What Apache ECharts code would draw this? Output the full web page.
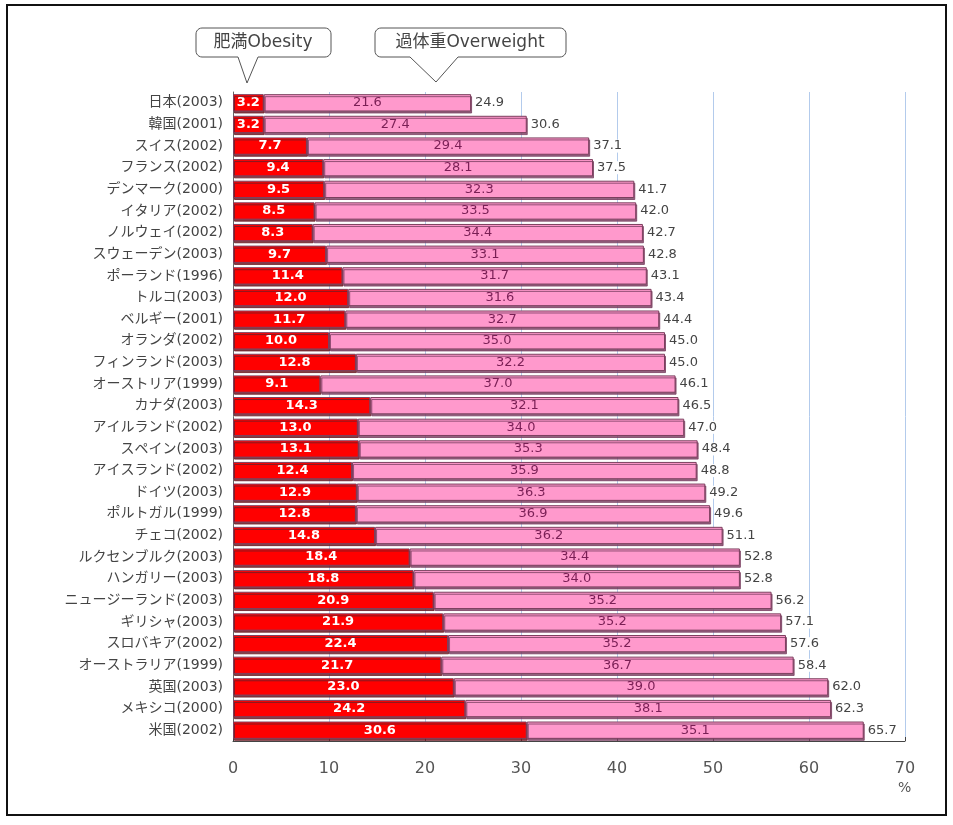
<!DOCTYPE html>
<html>
<head>
<meta charset="utf-8">
<script src="https://cdn.jsdelivr.net/npm/echarts@6/dist/echarts.min.js"></script>
<style>
  html, body { margin: 0; padding: 0; background: #ffffff; }
  #chart { width: 953px; height: 825px; }
</style>
</head>
<body>
<div id="chart"></div>
<script>
// OECD countries: obesity and overweight shares of the adult population (%)
const countries = [
  '日本(2003)', '韓国(2001)', 'スイス(2002)', 'フランス(2002)', 'デンマーク(2000)',
  'イタリア(2002)', 'ノルウェイ(2002)', 'スウェーデン(2003)', 'ポーランド(1996)', 'トルコ(2003)',
  'ベルギー(2001)', 'オランダ(2002)', 'フィンランド(2003)', 'オーストリア(1999)', 'カナダ(2003)',
  'アイルランド(2002)', 'スペイン(2003)', 'アイスランド(2002)', 'ドイツ(2003)', 'ポルトガル(1999)',
  'チェコ(2002)', 'ルクセンブルク(2003)', 'ハンガリー(2003)', 'ニュージーランド(2003)', 'ギリシャ(2003)',
  'スロバキア(2002)', 'オーストラリア(1999)', '英国(2003)', 'メキシコ(2000)', '米国(2002)'
];
const obesity = [
  3.2, 3.2, 7.7, 9.4, 9.5,
  8.5, 8.3, 9.7, 11.4, 12.0,
  11.7, 10.0, 12.8, 9.1, 14.3,
  13.0, 13.1, 12.4, 12.9, 12.8,
  14.8, 18.4, 18.8, 20.9, 21.9,
  22.4, 21.7, 23.0, 24.2, 30.6
];
const overweight = [
  21.6, 27.4, 29.4, 28.1, 32.3,
  33.5, 34.4, 33.1, 31.7, 31.6,
  32.7, 35.0, 32.2, 37.0, 32.1,
  34.0, 35.3, 35.9, 36.3, 36.9,
  36.2, 34.4, 34.0, 35.2, 35.2,
  35.2, 36.7, 39.0, 38.1, 35.1
];
const totals = [
  24.9, 30.6, 37.1, 37.5, 41.7,
  42.0, 42.7, 42.8, 43.1, 43.4,
  44.4, 45.0, 45.0, 46.1, 46.5,
  47.0, 48.4, 48.8, 49.2, 49.6,
  51.1, 52.8, 52.8, 56.2, 57.1,
  57.6, 58.4, 62.0, 62.3, 65.7
];
const xTicks = [0, 10, 20, 30, 40, 50, 60, 70];

const jpFont = '"DejaVu Sans", "Noto Sans CJK JP", sans-serif';
const numFont = '"DejaVu Sans", sans-serif';
const barBorder = '#7c3f5e';

// speech-bubble outline as polygon points: rounded box with a pointed tail on its lower edge
function bubble(x0, y0, x1, y1, t0, t1, tipX, tipY) {
  const r = 6, pts = [];
  const arc = (cx, cy, a0) => {
    for (let i = 0; i <= 6; i++) {
      const a = (a0 + i * 15) * Math.PI / 180;
      pts.push([cx + r * Math.cos(a), cy + r * Math.sin(a)]);
    }
  };
  arc(x0 + r, y0 + r, 180);       // top-left
  arc(x1 - r, y0 + r, 270);       // top-right
  arc(x1 - r, y1 - r, 0);         // bottom-right
  pts.push([t1, y1], [tipX, tipY], [t0, y1]);
  arc(x0 + r, y1 - r, 90);        // bottom-left
  return pts;
}

const chart = echarts.init(document.getElementById('chart'), null, { renderer: 'canvas' });

chart.setOption({
  backgroundColor: '#ffffff',
  animation: false,
  textStyle: { fontFamily: jpFont },
  grid: { left: 233, right: 48, top: 92, bottom: 84, containLabel: false },
  xAxis: {
    type: 'value',
    min: xTicks[0],
    max: xTicks[xTicks.length - 1],
    interval: 10,
    axisLine: { show: true, lineStyle: { color: '#444', width: 1 } },
    axisTick: { show: true, inside: true, length: 4, lineStyle: { color: '#444' } },
    axisLabel: { color: '#555', fontSize: 16, margin: 20, fontFamily: numFont },
    splitLine: { show: true, lineStyle: { color: '#b3cbec', width: 1 } }
  },
  yAxis: {
    type: 'category',
    data: countries,
    inverse: true,
    axisLine: { show: true, lineStyle: { color: '#666' } },
    axisTick: { show: false },
    axisLabel: { color: '#444', fontSize: 14, margin: 10, fontFamily: jpFont }
  },
  series: [
    {
      name: '肥満Obesity',
      type: 'bar',
      stack: 'bmi',
      data: obesity,
      barCategoryGap: '20%',
      itemStyle: {
        color: '#ff0000', borderColor: barBorder, borderWidth: 1,
        shadowColor: 'rgba(110, 30, 40, 0.85)', shadowOffsetY: 2, shadowOffsetX: 1, shadowBlur: 0
      },
      label: {
        show: true,
        position: 'inside',
        color: '#ffffff',
        fontWeight: 'bold',
        fontSize: 13,
        fontFamily: numFont,
        formatter: p => p.value.toFixed(1)
      }
    },
    {
      name: '過体重Overweight',
      type: 'bar',
      stack: 'bmi',
      data: overweight,
      itemStyle: {
        color: '#ff99cc', borderColor: barBorder, borderWidth: 1,
        shadowColor: 'rgba(120, 60, 95, 0.8)', shadowOffsetY: 2, shadowOffsetX: 1, shadowBlur: 0
      },
      label: {
        show: true,
        position: 'inside',
        color: '#7a1f55',
        fontSize: 13,
        fontFamily: numFont,
        formatter: p => p.value.toFixed(1)
      }
    },
    {
      // running total shown at the end of each stacked bar
      name: 'total',
      type: 'bar',
      stack: 'bmi',
      data: totals.map(() => 0),
      itemStyle: { color: 'transparent' },
      label: {
        show: true,
        position: 'right',
        distance: 4,
        color: '#444',
        fontSize: 13,
        fontFamily: numFont,
        backgroundColor: '#ffffff',
        formatter: p => totals[p.dataIndex].toFixed(1)
      }
    }
  ],
  graphic: [
    {
      type: 'rect',
      shape: { x: 7, y: 5, width: 939, height: 810 },
      style: { fill: 'none', stroke: '#111', lineWidth: 2 },
      silent: true
    },
    {
      type: 'polygon',
      shape: { points: bubble(196, 28, 331, 57, 238, 258, 247, 83) },
      style: { fill: '#ffffff', stroke: '#555', lineWidth: 1 }
    },
    {
      type: 'text',
      x: 263, y: 43,
      style: { text: '肥満Obesity', fill: '#444', fontSize: 17, fontFamily: jpFont, align: 'center', verticalAlign: 'middle' }
    },
    {
      type: 'polygon',
      shape: { points: bubble(375, 28, 566, 57, 410, 458, 436, 82) },
      style: { fill: '#ffffff', stroke: '#555', lineWidth: 1 }
    },
    {
      type: 'text',
      x: 470, y: 43,
      style: { text: '過体重Overweight', fill: '#444', fontSize: 17, fontFamily: jpFont, align: 'center', verticalAlign: 'middle' }
    },
    {
      type: 'text',
      left: 898, top: 781,
      style: { text: '%', fill: '#555', fontSize: 14, fontFamily: numFont }
    }
  ]
});
</script>
</body>
</html>
